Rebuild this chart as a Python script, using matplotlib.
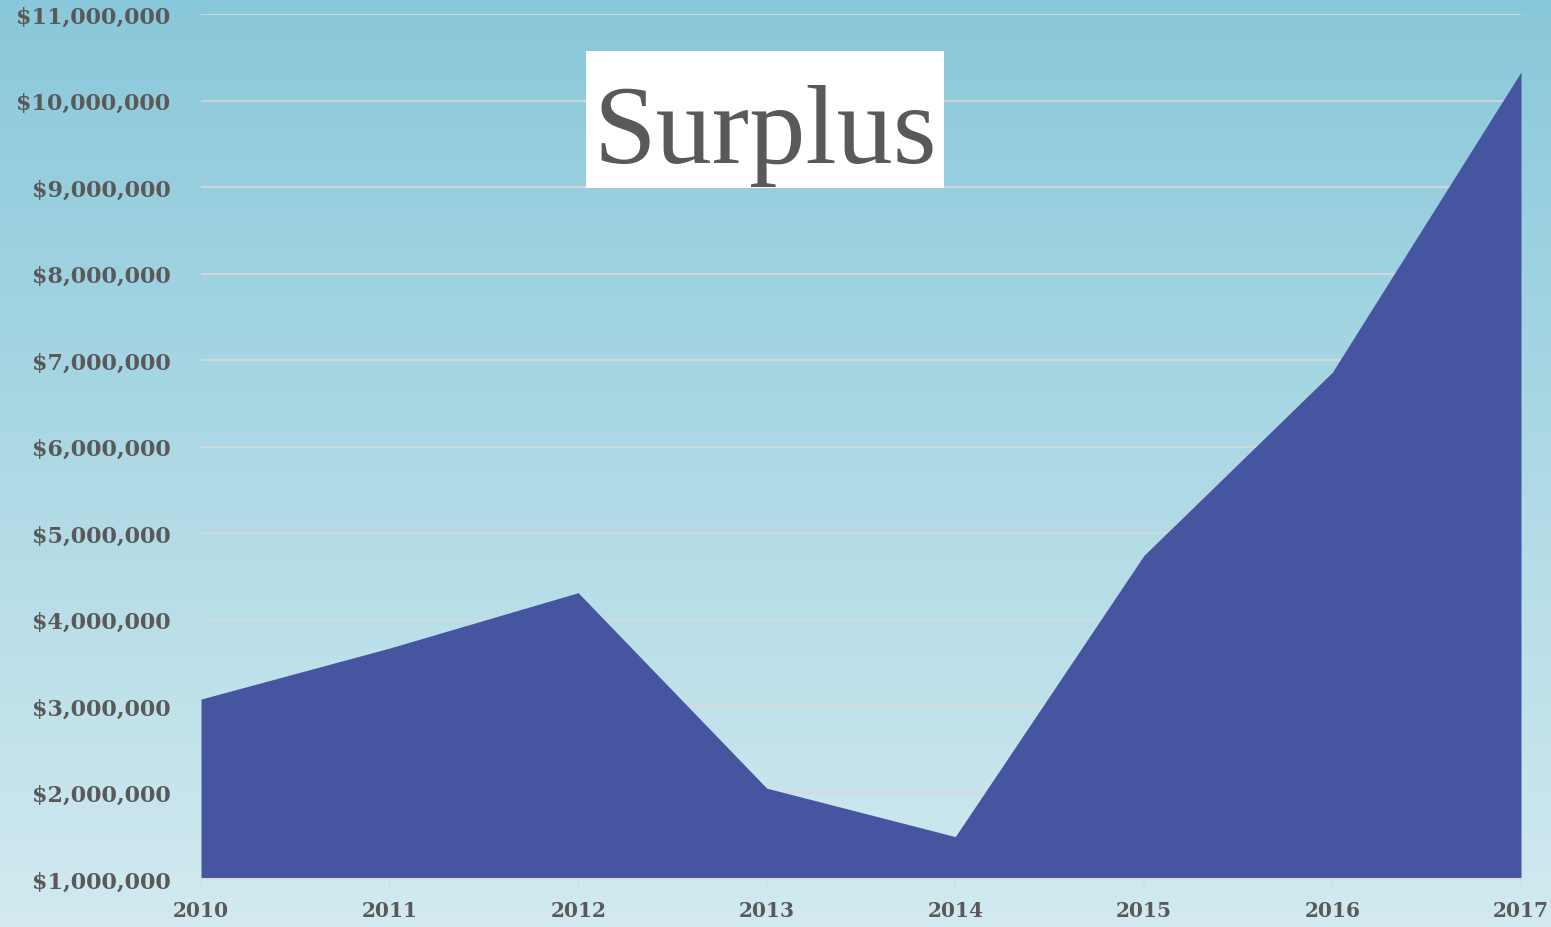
import matplotlib
matplotlib.use("Agg")
import matplotlib.pyplot as plt
import numpy as np
from matplotlib.ticker import FuncFormatter, MultipleLocator
from matplotlib.colors import LinearSegmentedColormap
from matplotlib.patches import Rectangle

years = [2010, 2011, 2012, 2013, 2014, 2015, 2016, 2017]
surplus = [3080000, 3670000, 4310000, 2050000, 1490000, 4740000, 6860000, 10330000]
title = "Surplus"

W, H = 1551, 928
fig = plt.figure(figsize=(W / 100, H / 100), dpi=100)

# gradient background
bg = fig.add_axes([0, 0, 1, 1], zorder=-10)
cmap = LinearSegmentedColormap.from_list("bg", ["#89C8DA", "#D2EAF0"])
grad = np.linspace(0, 1, 256).reshape(-1, 1)
bg.imshow(grad, aspect="auto", cmap=cmap, extent=[0, 1, 0, 1], origin="upper")
bg.axis("off")

left, right, top, bottom = 201 / W, 1521 / W, 1 - 15 / H, 1 - 880 / H
ax = fig.add_axes([left, bottom, right - left, top - bottom])
ax.patch.set_alpha(0)

ax.fill_between(years, 1000000, surplus, color="#4555A0", linewidth=0, zorder=3)

ax.set_xlim(2010, 2017)
ax.set_ylim(1000000, 11000000)
ax.yaxis.set_major_locator(MultipleLocator(1000000))
ax.set_xticks(years)
ax.yaxis.set_major_formatter(FuncFormatter(lambda v, p: "${:,.0f}".format(v)))

ax.grid(axis="y", color="#D9D9D9", linewidth=1.2, zorder=1)
ax.set_axisbelow(True)
for s in ["top", "right", "left"]:
    ax.spines[s].set_visible(False)
ax.spines["bottom"].set_color("#D9D9D9")
ax.spines["bottom"].set_linewidth(1.5)
ax.spines["bottom"].set_zorder(4)

ax.tick_params(axis="y", length=0, pad=22)
ax.tick_params(axis="x", length=6, width=1.2, color="#D9D9D9", pad=9)
for lab in ax.get_yticklabels():
    lab.set_fontfamily("DejaVu Serif")
    lab.set_fontweight("bold")
    lab.set_fontsize(16)
    lab.set_color("#595959")
for lab in ax.get_xticklabels():
    lab.set_fontfamily("DejaVu Serif")
    lab.set_fontweight("bold")
    lab.set_fontsize(14.5)
    lab.set_color("#595959")

# title box
fig.patches.append(Rectangle((586 / W, 1 - 189 / H), (944 - 586) / W, (189 - 52) / H,
                             transform=fig.transFigure, facecolor="white",
                             edgecolor="none", zorder=5))
fig.text(765 / W, 1 - 163 / H, title, ha="center", va="baseline",
         family="Liberation Serif", fontsize=81, color="#595959", zorder=6)

fig.savefig("out.png", dpi=100)
